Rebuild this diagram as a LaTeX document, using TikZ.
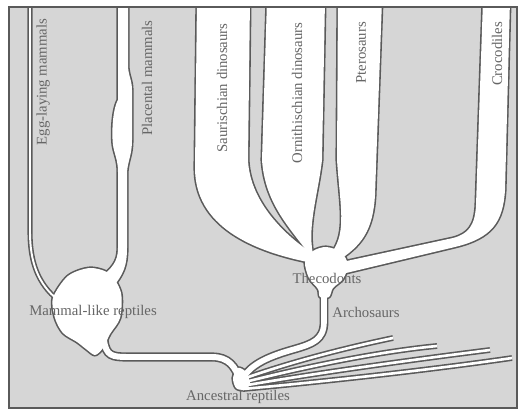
\documentclass[tikz,border=0pt]{standalone}
\usepackage{fontspec}
\setmainfont{Liberation Serif}
\usepackage{xcolor}
\usepackage{tikz}
\definecolor{panelgray}{HTML}{D6D6D6}
\definecolor{inkgray}{HTML}{5A5A5A}
\definecolor{labelgray}{HTML}{666666}

\begin{document}
\begin{tikzpicture}[
    x=0.02cm, y=-0.02cm,
    clade/.style={text=labelgray, inner sep=0pt,
                  font=\fontsize{8.4}{10}\selectfont},
    upright clade/.style={clade, rotate=90},
    blob/.style={fill=white, line width=1.8pt, line join=round}
  ]
    \useasboundingbox (0,0) rectangle (527,411);
    \fill[panelgray] (9,7) rectangle (517,408);

    \begin{scope}
      \clip (9,7) rectangle (517,408);
      % pass 1 draws the dark rims, pass 2 lays the white bodies over them
      \foreach \ink/\tube/\cut in {inkgray/inkgray/0pt, none/white/1.8pt} {
        % Mammal-like reptiles and their branches
        \path[blob, draw=\ink] plot[smooth cycle] coordinates
          {(53,298) (68,276) (90,268) (110,274) (121,293) (120,318)
           (110,334) (103,348) (95,355) (86,349) (77,342) (63,333) (55,318)};
        \path[draw=\tube, line width=2.9pt-\cut]
          (30,0) -- (30,232) .. controls (30,262) and (38,284) .. (58,300);
        \path[blob, draw=\ink]
          (118,0) -- (118,100) .. controls (112,110) and (111,140) .. (114,150)
          .. controls (116,158) and (118,162) .. (118,172)
          -- (118,248) .. controls (118,262) and (112,268) .. (100,278)
          -- (112,288) .. controls (124,274) and (127,265) .. (127,248)
          -- (127,172) .. controls (128,160) and (132,155) .. (132,140)
          -- (132,90) .. controls (132,80) and (128,75) .. (128,65)
          -- (128,0) -- cycle;
        \path[draw=\tube, line width=5.2pt-\cut]
          (104,340) .. controls (106,356) and (112,357) .. (128,357)
          -- (212,357) .. controls (228,357) and (236,366) .. (240,382);

        % Ancestral reptiles and the fan
        \path[blob, draw=\ink] plot[smooth cycle] coordinates
          {(233,378) (238,368) (246,372) (250,384) (244,390) (236,388)};
        \path[draw=\tube, line width=3.3pt-\cut]
          (240,380) .. controls (290,362) and (345,348) .. (393,338);
        \path[draw=\tube, line width=3.3pt-\cut]
          (241,383) .. controls (300,368) and (375,352) .. (437,346);
        \path[draw=\tube, line width=3.3pt-\cut]
          (242,386) .. controls (310,374) and (410,360) .. (490,350);
        \path[draw=\tube, line width=3.3pt-\cut]
          (243,389) .. controls (320,382) and (430,370) .. (512,358);

        % Archosaurs stem
        \path[draw=\tube, line width=5pt-\cut]
          (324,292) -- (324,322) .. controls (324,340) and (312,344) .. (295,349)
          .. controls (270,356) and (250,364) .. (242,380);

        % Thecodonts and their branches
        \path[blob, draw=\ink] plot[smooth cycle] coordinates
          {(305,262) (313,251) (326,247) (341,252) (348,265) (343,279)
           (333,288) (329,297) (320,297) (318,289) (309,278)};
        \path[blob, draw=\ink]
          (197,0) -- (195,168) .. controls (195,225) and (250,252) .. (318,264)
          -- (318,257) .. controls (290,240) and (250,205) .. (248,160)
          -- (250,0) -- cycle;
        \path[blob, draw=\ink]
          (267,0) -- (262,160) .. controls (265,205) and (292,230) .. (312,258)
          -- (314,258) .. controls (306,230) and (318,195) .. (322,160)
          -- (325,0) -- cycle;
        \path[blob, draw=\ink]
          (338,0) -- (337,160) .. controls (340,205) and (347,232) .. (332,252)
          -- (336,262) .. controls (362,246) and (373,230) .. (375,195)
          -- (382,0) -- cycle;
        \path[blob, draw=\ink]
          (483,0) -- (476,205) .. controls (475,226) and (468,234) .. (453,238)
          -- (342,262) -- (342,274) -- (455,247)
          .. controls (492,238) and (503,222) .. (505,190)
          -- (510,0) -- cycle;
      }
    \end{scope}

    \draw[inkgray, line width=0.9pt] (9,7) rectangle (517,408);

    % Labels
    \node[upright clade] (egg)    at (43,82)  {Egg-laying mammals};
    \node[upright clade] (plac)   at (147,78) {Placental mammals};
    \node[upright clade] (saur)   at (222,88) {Saurischian dinosaurs};
    \node[upright clade] (orni)   at (297,93) {Ornithischian dinosaurs};
    \node[upright clade] (ptero)  at (361,53) {Pterosaurs};
    \node[upright clade] (croc)   at (497,54) {Crocodiles};
    \node[clade] (mammal) at (93,312)  {Mammal-like reptiles};
    \node[clade] (theco)  at (327,278) {Thecodonts};
    \node[clade] (archo)  at (366,312) {Archosaurs};
    \node[clade] (ances)  at (238,397) {Ancestral reptiles};
\end{tikzpicture}
\end{document}
